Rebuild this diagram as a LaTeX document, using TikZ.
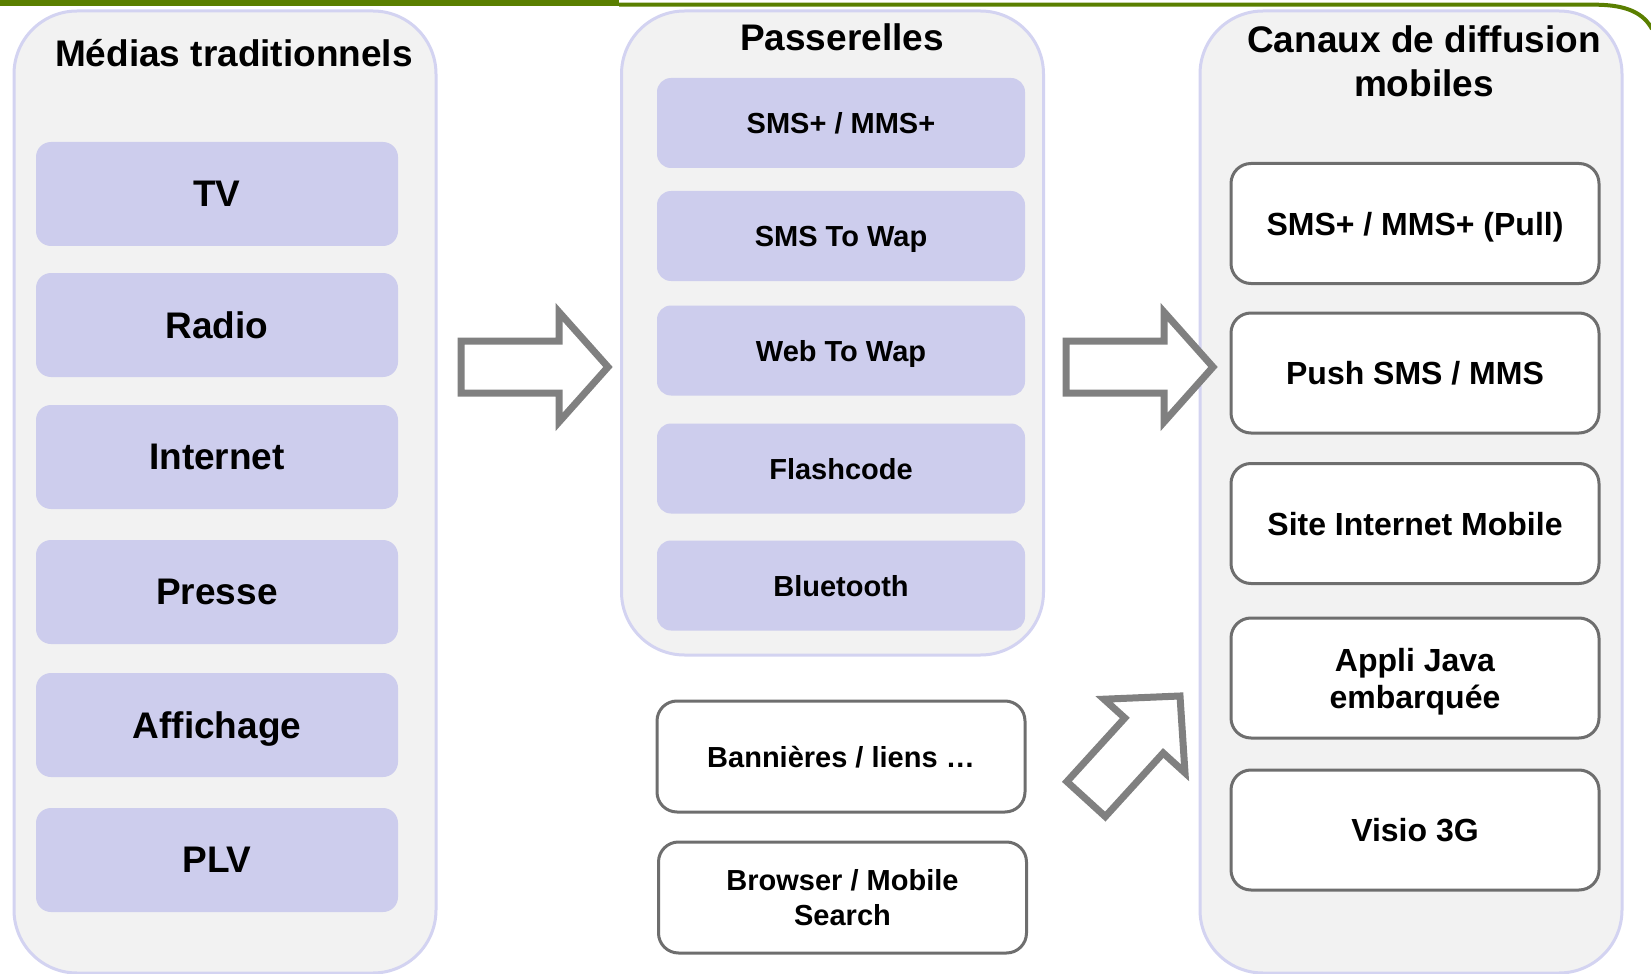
\documentclass[tikz,border=0pt]{standalone}
\usepackage{fontspec}
\setmainfont{Liberation Sans}
\definecolor{panelfill}{HTML}{F2F2F2}
\definecolor{panelline}{HTML}{D3D3F1}
\definecolor{purplebox}{HTML}{CDCDED}
\definecolor{boxline}{HTML}{6E6E6E}
\definecolor{arrowgray}{HTML}{808080}
\definecolor{topgreen}{HTML}{5A7F00}
\begin{document}
\begin{tikzpicture}[x=0.5pt,y=-0.5pt,
  panel/.style={draw=panelline, line width=1.5pt, fill=panelfill, rounded corners=31.5pt, minimum width=211pt, inner sep=0pt},
  ptitle/.style={font=\bfseries\fontsize{18.5}{22}\selectfont, align=center, inner sep=0pt},
  mediabox/.style={fill=purplebox, rounded corners=7.5pt, minimum width=181pt, minimum height=52pt, inner sep=0pt, text depth=0pt, font=\bfseries\fontsize{18.5}{22}\selectfont},
  passbox/.style={fill=purplebox, rounded corners=7pt, minimum width=184pt, minimum height=45pt, inner sep=0pt, text depth=0pt, font=\bfseries\fontsize{14.5}{17.5}\selectfont},
  chanbox/.style={draw=boxline, line width=1.5pt, fill=white, rounded corners=10pt, minimum width=184pt, minimum height=60pt, inner sep=0pt, text depth=0pt, align=center, font=\bfseries\fontsize{16}{18.5}\selectfont},
  webbox/.style={draw=boxline, line width=1.5pt, fill=white, rounded corners=10pt, minimum width=184pt, minimum height=55.5pt, inner sep=0pt, text depth=0pt, align=center, font=\bfseries\fontsize{14.5}{17.5}\selectfont},
  blockarrow/.style={draw=arrowgray, line width=3.5pt, fill=white, line join=miter}
]
\useasboundingbox (0,0) rectangle (1651,974);

% top green rule
\fill[topgreen] (0,0) rectangle (619,6.5);
\draw[topgreen, line width=2pt] (619,4.7) -- (1595,4.7) .. controls (1628,4.7) and (1644,14) .. (1652,29);

% panels
\node[panel, minimum height=481pt] (pmed) at (225,492) {};
\node[panel, minimum height=322pt] (ppass) at (832.5,333) {};
\node[panel, minimum height=481pt] (pchan) at (1411,492) {};

\node[ptitle] (tmed) at (234,53) {Médias traditionnels};
\node[ptitle] (tpass) at (842,37) {Passerelles};
\node[ptitle] (tchan) at (1424,61) {Canaux de diffusion\\mobiles};

% traditional media
\node[mediabox] (tv) at (217,194) {TV};
\node[mediabox] (radio) at (217,325) {Radio};
\node[mediabox] (internet) at (217,457) {Internet};
\node[mediabox] (presse) at (217,592) {Presse};
\node[mediabox] (affichage) at (217,725) {Affichage};
\node[mediabox] (plv) at (217,860) {PLV};

% gateways
\node[passbox] (sms) at (841,123) {SMS+ / MMS+};
\node[passbox] (smswap) at (841,236) {SMS To Wap};
\node[passbox] (webwap) at (841,350.5) {Web To Wap};
\node[passbox] (flash) at (841,468.5) {Flashcode};
\node[passbox] (bt) at (841,585.5) {Bluetooth};

% web entries
\node[webbox] (bann) at (841,756.5) {Bannières / liens …};
\node[webbox] (browser) at (842.5,897.5) {Browser / Mobile\\Search};

% mobile channels
\node[chanbox] (pull) at (1415,223.5) {SMS+ / MMS+ (Pull)};
\node[chanbox] (push) at (1415,373) {Push SMS / MMS};
\node[chanbox] (site) at (1415,523.5) {Site Internet Mobile};
\node[chanbox] (java) at (1415,678) {Appli Java\\embarquée};
\node[chanbox] (visio) at (1415,830) {Visio 3G};

% block arrows
\draw[blockarrow] (461,341) -- (559,341) -- (559,312) -- (608,367) -- (559,422) -- (559,393) -- (461,393) -- cycle;
\draw[blockarrow] (1066,341) -- (1164,341) -- (1164,312) -- (1213,367) -- (1164,422) -- (1164,393) -- (1066,393) -- cycle;
\draw[blockarrow] (1066.9,781.6) -- (1124.8,718) -- (1104,699.2) -- (1180,696) -- (1185,772.8) -- (1163.2,753) -- (1105.3,816.6) -- cycle;
\end{tikzpicture}
\end{document}
